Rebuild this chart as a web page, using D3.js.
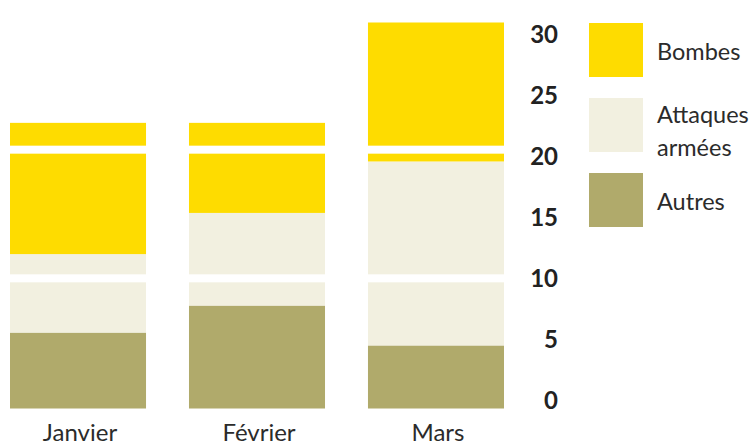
<!DOCTYPE html>
<html>
<head>
<meta charset="utf-8">
<script src="https://cdn.jsdelivr.net/npm/d3@7"></script>
<style>
  body { margin: 0; background: #fff; }
  svg { display: block; font-family: Lato, sans-serif; }
</style>
</head>
<body>
<div id="chart"></div>
<script>
// données
const months = ['Janvier', 'Février', 'Mars']
const autres = [5.9, 8.0, 4.9]
const attaques = [6.1, 7.2, 14.3]
const bombes = [10.2, 7.0, 10.8]
const ticks = [0, 5, 10, 15, 20, 25, 30]
const gaps = [10, 20]
const series = [
  { key: 'Bombes', label: ['Bombes'], color: '#FEDC00', values: bombes },
  { key: 'Attaques', label: ['Attaques', 'armées'], color: '#F2F0E0', values: attaques },
  { key: 'Autres', label: ['Autres'], color: '#B0AA6B', values: autres }
]

const width = 749
const height = 448

const svg = d3.select('#chart').append('svg')
  .attr('width', width)
  .attr('height', height)

const x = d3.scaleBand()
  .domain(months)
  .range([10, 504])
  .paddingInner(0.24)

const y = d3.scaleLinear()
  .domain([0, 30])
  .range([408.5, 22.5])

// l'échelle des étiquettes n'est pas tout à fait celle des barres
const yLabels = d3.scaleLinear()
  .domain([0, 30])
  .range([408.5, 42.5])

// empilement (du bas vers le haut : Autres, Attaques, Bombes)
const rows = months.map((m, i) => ({
  month: m,
  Autres: autres[i],
  Attaques: attaques[i],
  Bombes: bombes[i]
}))
const stack = d3.stack().keys(['Autres', 'Attaques', 'Bombes'])
const stacked = stack(rows)
const colorOf = {}
series.forEach(s => { colorOf[s.key] = s.color })

const gBars = svg.append('g')
gBars.selectAll('g.layer')
  .data(stacked)
  .join('g')
  .attr('class', 'layer')
  .attr('fill', d => colorOf[d.key])
  .selectAll('rect')
  .data(d => d)
  .join('rect')
  .attr('x', d => x(d.data.month))
  .attr('width', x.bandwidth())
  .attr('y', d => y(d[1]))
  .attr('height', d => y(d[0]) - y(d[1]))

// bandes blanches à 10 et 20
svg.append('g')
  .selectAll('rect')
  .data(gaps)
  .join('rect')
  .attr('x', 0)
  .attr('width', 515)
  .attr('y', d => y(d) - 5.5)
  .attr('height', 8)
  .attr('fill', '#fff')

// axe des valeurs
const axis = svg.append('g')
  .attr('transform', 'translate(558,0)')
  .call(d3.axisLeft(yLabels).tickValues(ticks).tickSize(0).tickPadding(0))
axis.select('.domain').remove()
axis.selectAll('text')
  .attr('dy', 0)
  .attr('x', 0)
  .attr('font-family', 'Lato, sans-serif')
  .attr('font-size', 24)
  .attr('font-weight', 700)
  .attr('fill', '#222')

// mois
svg.append('g')
  .selectAll('text')
  .data(months)
  .join('text')
  .attr('x', d => x(d) + x.bandwidth() / 2 + 2)
  .attr('y', 441)
  .attr('text-anchor', 'middle')
  .attr('font-size', 24)
  .attr('fill', '#2b2b2b')
  .text(d => d)

// légende
const legend = svg.append('g')
  .selectAll('g')
  .data(series)
  .join('g')
  .attr('transform', (d, i) => `translate(589,${23 + i * 75})`)

legend.append('rect')
  .attr('width', 54)
  .attr('height', 54)
  .attr('fill', d => d.color)

legend.append('text')
  .attr('x', 68)
  .attr('font-size', 23.5)
  .attr('fill', '#2b2b2b')
  .each(function (d) {
    const t = d3.select(this)
    const first = d.label.length > 1 ? 25 : 37
    d.label.forEach((line, j) => {
      t.append('tspan')
        .attr('x', 68)
        .attr('y', first + j * 33)
        .text(line)
    })
  })
</script>
</body>
</html>
